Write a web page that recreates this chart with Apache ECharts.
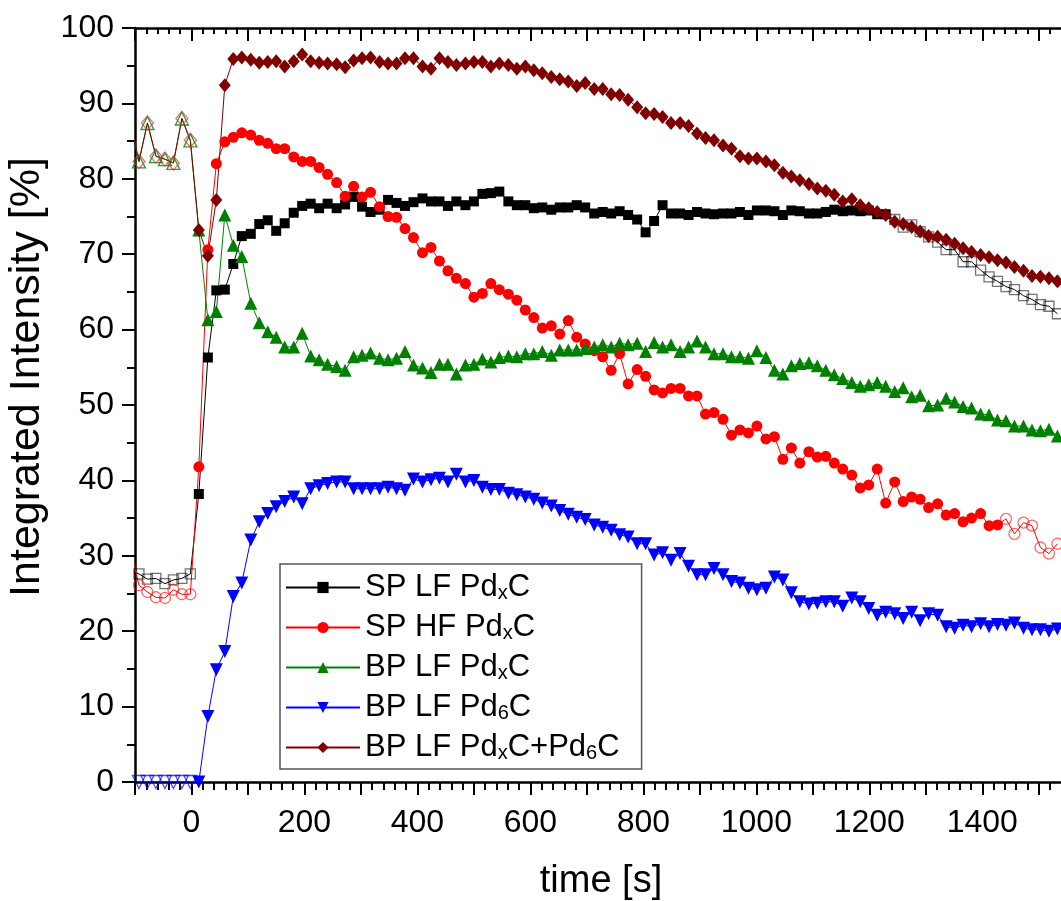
<!DOCTYPE html>
<html>
<head>
<meta charset="utf-8">
<script src="https://cdn.jsdelivr.net/npm/echarts@6/dist/echarts.min.js"></script>
<style>
html,body{margin:0;padding:0;background:#ffffff;}
#chart{width:1061px;height:901px;}
</style>
</head>
<body>
<div id="chart"></div>
<script>
// ---------------- data ----------------
const times = [-108, -93, -78, -63, -47, -32, -17, -2,
  13, 29, 44, 59, 74, 89, 105, 120, 135, 150,
  165, 181, 196, 211, 226, 241, 257, 272, 287, 302,
  317, 333, 348, 363, 378, 393, 409, 424, 439, 454,
  469, 485, 500, 515, 530, 545, 561, 576, 591, 606,
  621, 637, 652, 667, 682, 697, 713, 728, 743, 758,
  773, 789, 804, 819, 834, 849, 865, 880, 895, 910,
  925, 941, 956, 971, 986, 1001, 1017, 1032, 1047, 1062,
  1077, 1093, 1108, 1123, 1138, 1153, 1169, 1184, 1199, 1214,
  1229, 1245, 1260, 1275, 1290, 1305, 1321, 1336, 1351, 1366,
  1381, 1397, 1412, 1427, 1442, 1457, 1473, 1488, 1503, 1518,
  1533];

const spLfPdxC = [28.0, 27.6, 26.9, 27.0, 26.3, 26.8, 27.0, 27.6,
  38.2, 56.3, 65.2, 65.3, 68.7, 72.4, 72.7, 74.0, 74.5, 73.1,
  74.1, 75.5, 76.4, 76.7, 76.1, 76.7, 76.1, 76.6, 77.6, 76.3,
  75.6, 75.9, 77.2, 76.8, 76.4, 76.9, 77.4, 77.0, 77.0, 76.4,
  77.0, 76.5, 77.0, 78.0, 78.1, 78.3, 77.0, 76.5, 76.5, 76.1,
  76.2, 75.9, 76.2, 76.2, 76.5, 76.2, 75.4, 75.6, 75.4, 75.7,
  75.2, 74.6, 72.9, 74.4, 76.5, 75.4, 75.4, 75.2, 75.6, 75.4,
  75.3, 75.4, 75.4, 75.6, 75.2, 75.8, 75.8, 75.7, 75.2, 75.8,
  75.7, 75.4, 75.4, 75.6, 75.9, 75.7, 75.8, 75.7, 75.8, 75.3,
  75.3, 74.6, 73.6, 73.9, 73.0, 72.3, 71.6, 70.6, 70.6, 69.0,
  69.0, 67.9, 67.0, 66.4, 65.7, 65.3, 64.5, 64.0, 63.3, 63.1,
  62.1];

const spHfPdxC = [31.0, 26.1, 25.2, 24.5, 24.4, 25.5, 24.9, 24.9,
  41.8, 70.6, 82.0, 84.9, 85.5, 86.1, 85.8, 85.1, 84.7, 84.0,
  84.0, 82.9, 82.3, 82.3, 81.5, 80.6, 79.5, 77.7, 79.0, 77.6,
  78.2, 76.3, 75.0, 74.9, 73.4, 72.2, 70.2, 70.9, 69.1, 67.8,
  66.8, 66.1, 64.3, 64.8, 66.1, 65.3, 64.7, 63.9, 62.6, 61.6,
  60.2, 60.5, 59.4, 61.2, 59.0, 58.1, 57.2, 56.4, 54.6, 56.8,
  52.8, 54.7, 53.8, 52.0, 51.6, 52.2, 52.2, 51.2, 51.2, 48.8,
  49.0, 48.1, 46.0, 46.7, 46.3, 47.2, 45.5, 45.8, 42.8, 44.3,
  42.3, 43.8, 43.1, 43.2, 42.3, 41.5, 40.7, 39.0, 39.4, 41.5,
  37.0, 39.8, 37.2, 37.8, 37.5, 36.4, 36.9, 35.4, 35.6, 34.5,
  35.0, 35.6, 34.0, 34.1, 34.9, 32.9, 34.4, 34.0, 31.1, 30.3,
  31.6];

const bpLfPdxC = [87.4, 82.3, 87.4, 83.0, 82.6, 82.1, 88.0, 85.1,
  73.2, 61.3, 62.4, 75.2, 71.2, 69.7, 63.5, 60.9, 59.7, 59.0,
  57.7, 57.7, 59.5, 56.5, 56.0, 55.4, 55.1, 54.6, 56.4, 56.6,
  56.9, 56.2, 56.0, 56.2, 57.1, 55.3, 54.9, 54.3, 55.4, 55.4,
  54.1, 55.3, 55.4, 56.1, 55.7, 56.3, 56.5, 56.4, 56.8, 56.8,
  57.1, 56.6, 57.3, 57.3, 57.3, 57.5, 57.7, 58.0, 57.7, 58.2,
  58.0, 58.2, 57.1, 58.3, 57.7, 58.0, 57.1, 57.7, 58.5, 57.7,
  56.8, 56.8, 56.4, 56.4, 56.2, 57.2, 56.3, 54.6, 54.1, 55.2,
  55.5, 55.6, 55.2, 54.6, 54.0, 53.5, 53.0, 52.5, 52.7, 53.0,
  52.5, 51.8, 52.3, 51.1, 51.3, 49.9, 50.0, 50.9, 50.4, 49.8,
  49.6, 48.8, 48.7, 48.0, 47.9, 47.2, 47.2, 46.7, 46.6, 46.8,
  45.9];

const bpLfPd6C = [0, 0, 0, 0, 0, 0, 0, 0,
  0, 8.7, 14.9, 17.3, 24.6, 26.4, 32.1, 34.5, 35.6, 36.5,
  37.2, 37.8, 36.9, 38.9, 39.3, 39.6, 39.8, 39.8, 38.9, 38.9,
  38.9, 38.9, 39.1, 38.9, 38.7, 40.2, 39.8, 40.1, 40.3, 39.8,
  40.8, 39.8, 40.0, 39.1, 38.8, 38.8, 38.3, 38.1, 37.8, 37.5,
  37.0, 36.6, 36.0, 35.5, 35.1, 34.8, 34.1, 33.8, 33.4, 32.8,
  32.5, 31.6, 31.6, 30.1, 30.4, 29.4, 30.3, 28.6, 27.5, 27.5,
  28.3, 27.5, 26.6, 26.4, 25.7, 25.5, 25.7, 27.2, 26.8, 25.1,
  23.9, 23.6, 23.7, 23.9, 23.9, 23.3, 24.4, 23.9, 23.0, 22.1,
  22.5, 22.3, 21.7, 22.5, 21.4, 22.3, 22.1, 20.6, 20.4, 20.8,
  20.6, 21.0, 20.6, 20.9, 20.8, 21.1, 20.4, 20.2, 20.2, 20.0,
  20.3];

const bpLfSum = [87.4, 82.3, 87.4, 83.0, 82.6, 82.1, 88.0, 85.1,
  73.2, 69.8, 77.2, 92.4, 95.9, 96.1, 95.8, 95.4, 95.5, 95.6,
  94.9, 95.6, 96.5, 95.6, 95.4, 95.3, 95.2, 94.8, 95.7, 96.0,
  96.1, 95.5, 95.3, 95.3, 96.0, 96.0, 94.9, 94.6, 96.0, 95.5,
  95.1, 95.3, 95.5, 95.5, 94.9, 95.3, 95.1, 94.6, 94.9, 94.4,
  94.0, 93.5, 93.2, 92.9, 92.3, 92.7, 91.9, 91.9, 91.2, 91.1,
  90.5, 89.5, 88.7, 88.6, 88.2, 87.4, 87.4, 87.0, 86.0, 85.4,
  85.1, 84.4, 84.0, 83.0, 82.7, 82.7, 82.3, 81.8, 80.8, 80.3,
  79.8, 79.3, 78.7, 78.4, 77.9, 77.0, 77.3, 76.5, 76.1, 75.6,
  75.2, 74.3, 74.0, 73.6, 73.0, 72.4, 72.3, 71.9, 71.4, 70.8,
  70.3, 69.9, 69.6, 69.2, 68.9, 68.3, 67.8, 67.1, 67.0, 66.8,
  66.4];

const seriesNames = ['SP LF PdxC', 'SP HF PdxC', 'BP LF PdxC', 'BP LF Pd6C', 'BP LF PdxC+Pd6C'];
const xAxisName = 'time [s]';
const yAxisName = 'Integrated Intensity [%]';
const xLabelStep = 200;

// ---------------- presentation ----------------
const FONT = '"Liberation Sans", Arial, Helvetica, sans-serif';

function buildData(vals, hollowAfter, hollowColor) {
  return times.map(function (t, i) {
    if (t < 0 || t > hollowAfter) {
      return {
        value: [t, vals[i]],
        itemStyle: { color: 'rgba(255,255,255,0)', borderColor: hollowColor, borderWidth: 1.3 }
      };
    }
    return [t, vals[i]];
  });
}

function lineSeries(name, vals, color, symbol, size, hollowAfter, hollowColor, extra) {
  const s = {
    name: name,
    type: 'line',
    data: buildData(vals, hollowAfter, hollowColor),
    symbol: symbol,
    symbolSize: size,
    showAllSymbol: true,
    clip: true,
    lineStyle: { color: color, width: 1 },
    itemStyle: { color: color },
    emphasis: { disabled: true },
    animation: false
  };
  return Object.assign(s, extra || {});
}

function legendFormatter(name) {
  return name.replace(/Pd([x6])/g, 'Pd{s|$1}');
}

const chart = echarts.init(document.getElementById('chart'), null, { renderer: 'canvas' });

const option = {
  backgroundColor: '#ffffff',
  animation: false,
  grid: { left: 135, top: 28, width: 932, height: 754, show: false, containLabel: false, outerBoundsMode: 'none' },
  legend: {
    orient: 'vertical',
    left: 280,
    top: 564,
    padding: [8, 22, 6, 5],
    itemGap: 9,
    itemWidth: 74,
    itemHeight: 14,
    backgroundColor: '#ffffff',
    borderColor: '#555555',
    borderWidth: 1.5,
    borderRadius: 0,
    formatter: legendFormatter,
    textStyle: {
      fontFamily: FONT, fontSize: 31, color: '#000000', lineHeight: 31,
      rich: {
        s: { fontFamily: FONT, fontSize: 20, lineHeight: 10, verticalAlign: 'bottom', color: '#000000' }
      }
    },
    data: seriesNames
  },
  xAxis: [{
    type: 'value',
    position: 'bottom',
    min: -100,
    max: 1550,
    interval: 100,
    name: xAxisName,
    nameLocation: 'middle',
    nameGap: 81,
    nameTextStyle: { fontFamily: FONT, fontSize: 38, color: '#000000' },
    axisLine: { show: true, onZero: false, lineStyle: { color: '#000000', width: 2.5 } },
    axisTick: { show: true, inside: false, length: 13, lineStyle: { color: '#000000', width: 2 } },
    minorTick: { show: true, splitNumber: 5, length: 8, lineStyle: { color: '#000000', width: 2 } },
    splitLine: { show: false },
    minorSplitLine: { show: false },
    axisLabel: {
      fontFamily: FONT, fontSize: 32, color: '#000000', margin: 25, hideOverlap: false,
      formatter: function (v) { return (v % xLabelStep === 0) ? String(v) : ''; }
    }
  }, {
    type: 'value',
    position: 'top',
    min: -100,
    max: 1550,
    interval: 100,
    axisLine: { show: true, onZero: false, lineStyle: { color: '#000000', width: 2.5 } },
    axisTick: { show: true, inside: true, length: 13, lineStyle: { color: '#000000', width: 2 } },
    minorTick: { show: true, splitNumber: 5, length: 6, lineStyle: { color: '#000000', width: 2 } },
    splitLine: { show: false },
    axisLabel: { show: false }
  }],
  yAxis: [{
    type: 'value',
    min: 0,
    max: 100,
    interval: 10,
    name: yAxisName,
    nameLocation: 'middle',
    nameGap: 86,
    nameTextStyle: { fontFamily: FONT, fontSize: 43, color: '#000000', padding: [0, 0, 0, 56] },
    axisLine: { show: true, onZero: false, lineStyle: { color: '#000000', width: 2.5 } },
    axisTick: { show: true, inside: false, length: 13, lineStyle: { color: '#000000', width: 2 } },
    minorTick: { show: true, splitNumber: 2, length: 8, lineStyle: { color: '#000000', width: 2 } },
    splitLine: { show: false },
    minorSplitLine: { show: false },
    axisLabel: { fontFamily: FONT, fontSize: 32, color: '#000000', margin: 21, hideOverlap: false }
  }],
  series: [
    lineSeries(seriesNames[0], spLfPdxC, '#000000', 'rect', 10, 1237, 'rgba(0,0,0,0.55)'),
    lineSeries(seriesNames[1], spHfPdxC, '#ff0000', 'circle', 11, 1435, 'rgba(255,0,0,0.6)'),
    lineSeries(seriesNames[2], bpLfPdxC, '#008000', 'triangle', 13, 99999, 'rgba(0,128,0,0.8)'),
    lineSeries(seriesNames[3], bpLfPd6C, '#0000ff', 'triangle', 13, 99999, 'rgba(0,0,255,0.7)', { symbolRotate: 180 }),
    lineSeries(seriesNames[4], bpLfSum, '#800000', 'diamond', [12, 14], 99999, 'rgba(200,60,60,0.7)')
  ]
};

chart.setOption(option);
</script>
</body>
</html>
